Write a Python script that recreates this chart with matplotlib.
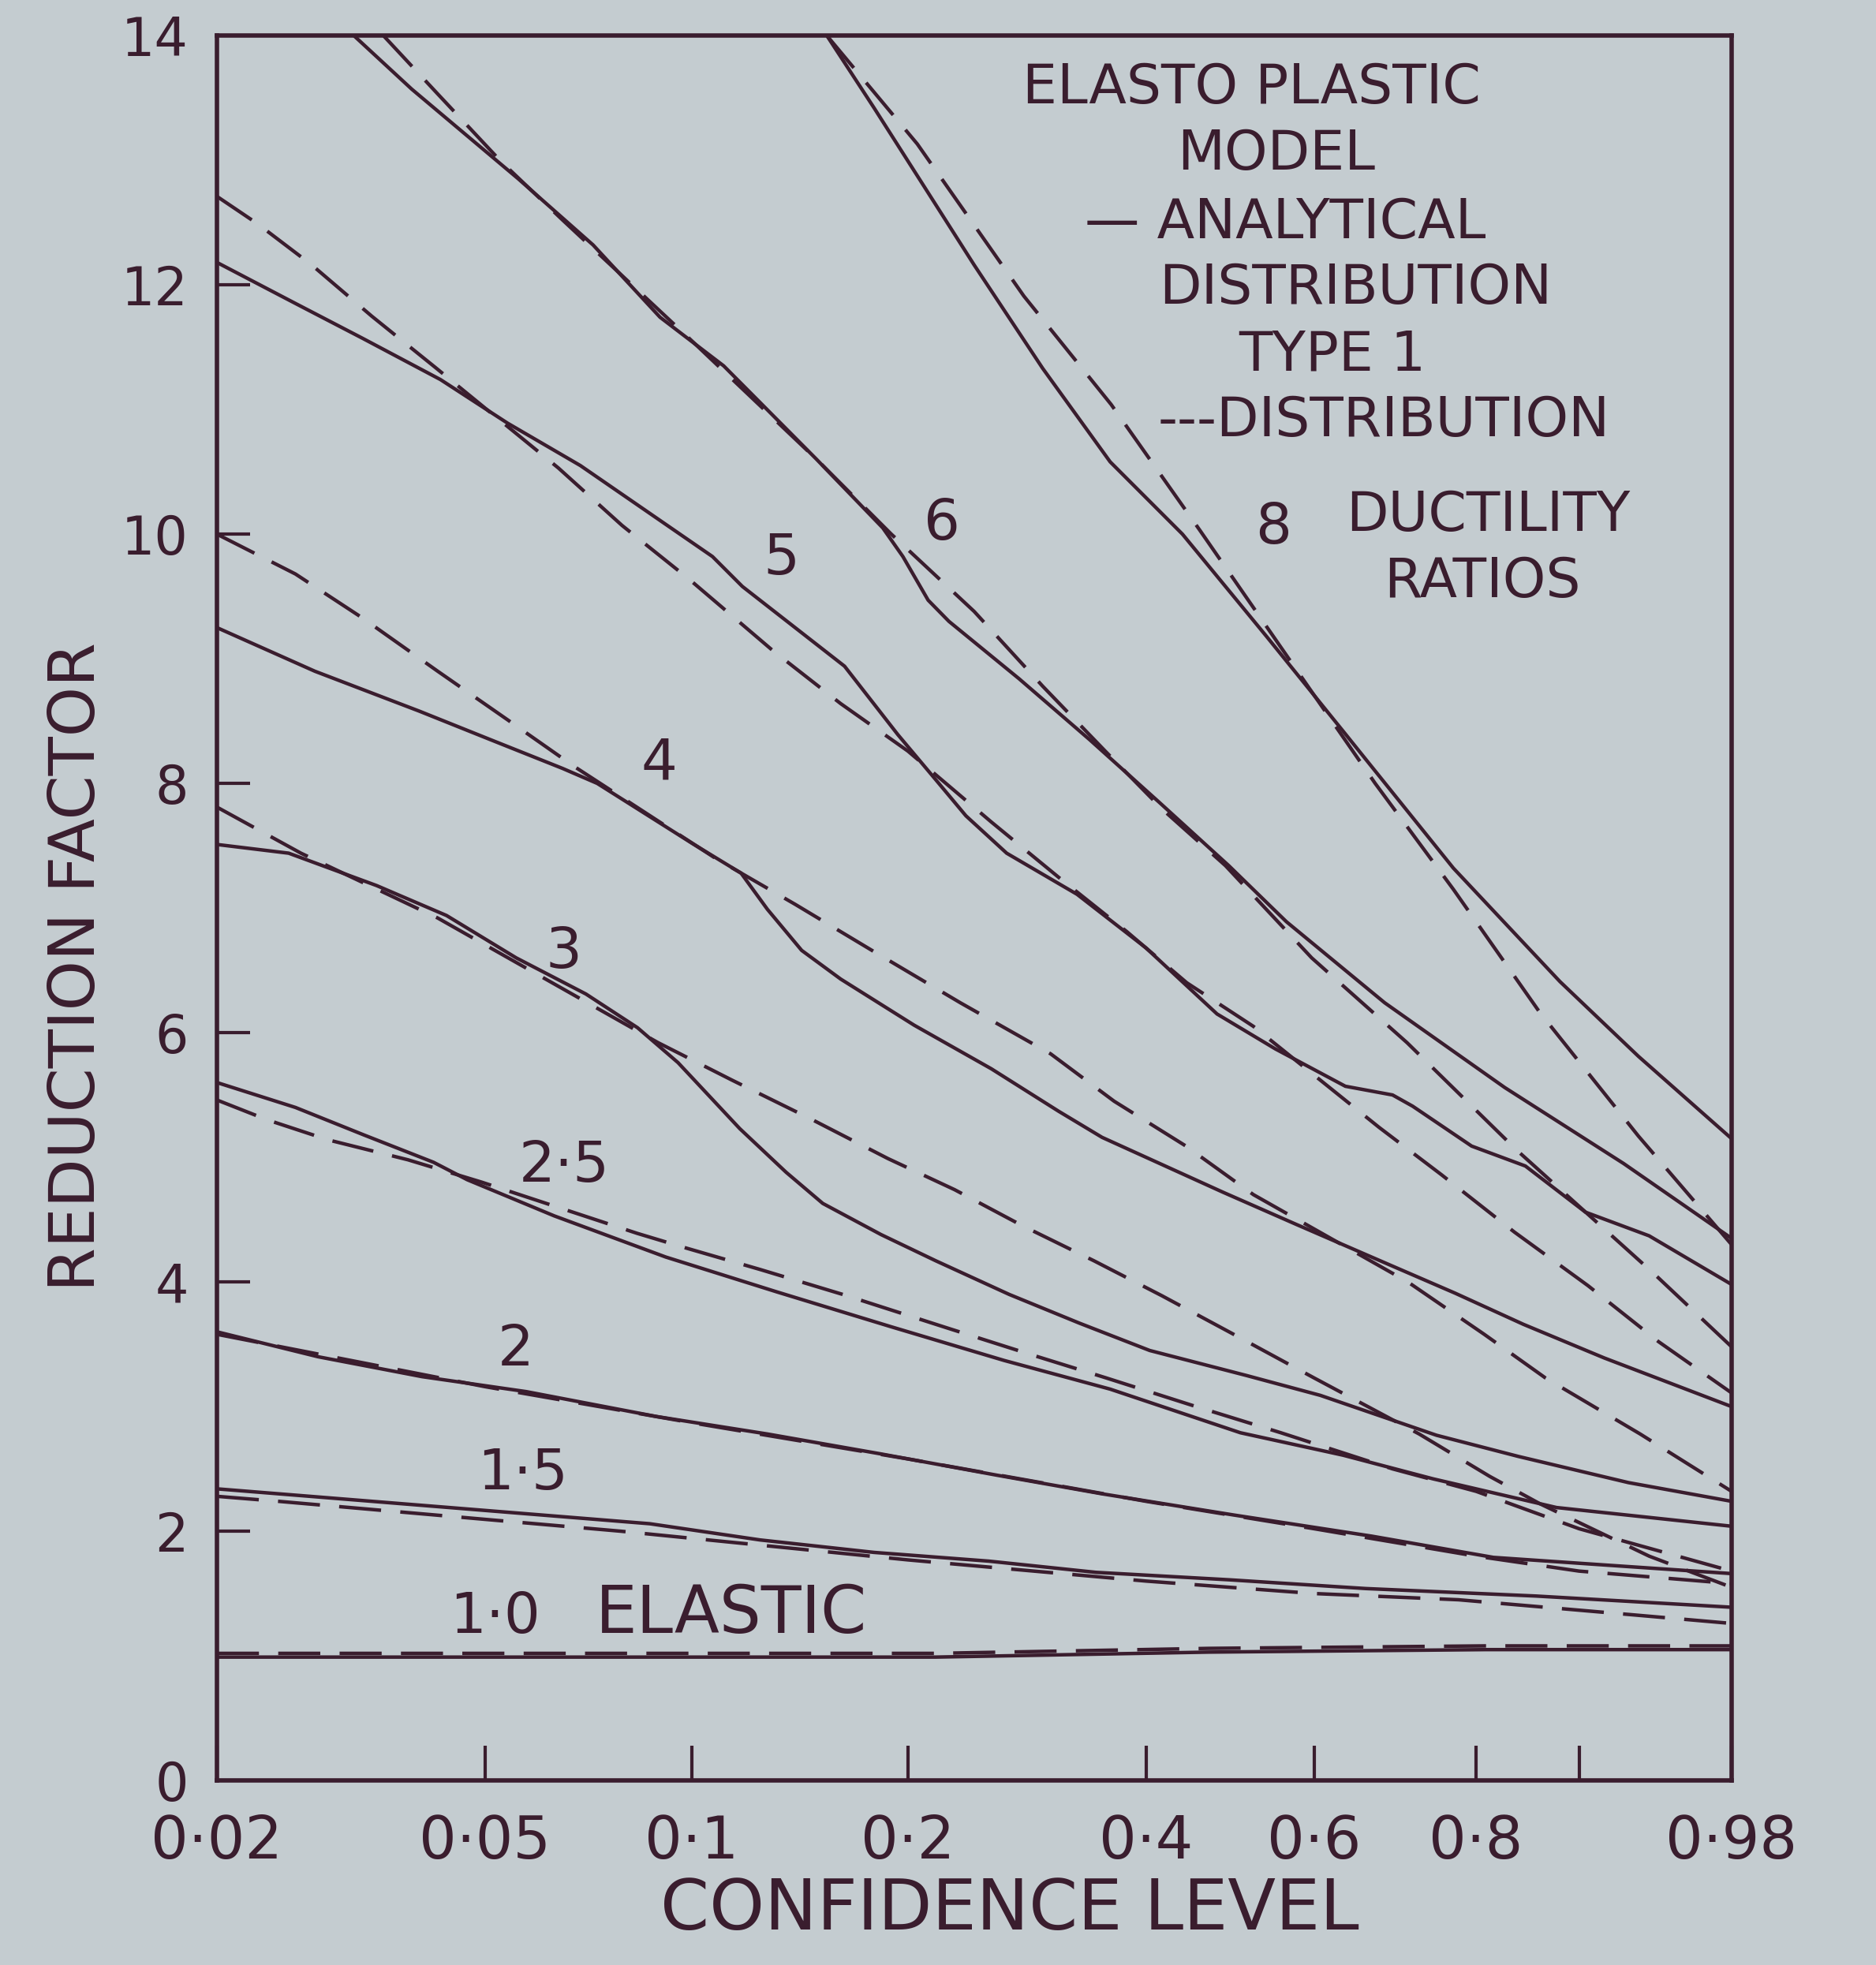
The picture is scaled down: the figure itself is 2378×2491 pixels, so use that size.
import numpy as np
import matplotlib
matplotlib.use("Agg")
import matplotlib.pyplot as plt

BG = "#c4ccd0"
INK = "#3a1d2e"
plt.rcParams['font.family'] = ['DejaVu Sans']

# ---------------- axes description ----------------
X_TICKS = [0.02, 0.05, 0.1, 0.2, 0.4, 0.6, 0.8, 0.9, 0.98]
X_TICK_LABELS = ["0·02", "0·05", "0·1", "0·2", "0·4", "0·6", "0·8", "", "0·98"]
Y_TICKS = [0, 2, 4, 6, 8, 10, 12, 14]
Y_TICK_LABELS = ["0", "2", "4", "6", "8", "10", "12", "14"]

# ---------------- data (confidence level, reduction factor) ----------------
# ductility 8
MU8_SOLID_P = [0.155, 0.18, 0.245, 0.30, 0.363, 0.44, 0.54, 0.637, 0.774, 0.884, 0.941, 0.98]
MU8_SOLID_V = [14.0, 13.42, 12.16, 11.33, 10.58, 10.0, 9.18, 8.42, 7.32, 6.41, 5.81, 5.15]
MU8_DASH_P = [0.155, 0.206, 0.284, 0.364, 0.46, 0.678, 0.774, 0.866, 0.941, 0.98]
MU8_DASH_V = [14.0, 13.13, 11.91, 11.04, 10.03, 8.0, 7.15, 6.16, 5.17, 4.3]
# ductility 6
MU6_SOLID_P = [0.032, 0.039, 0.056, 0.072, 0.09, 0.111, 0.15, 0.185, 0.197, 0.213, 0.227,
               0.28, 0.343, 0.414, 0.494, 0.565, 0.69, 0.831, 0.932, 0.98]
MU6_SOLID_V = [14.0, 13.57, 12.85, 12.32, 11.74, 11.35, 10.60, 10.05, 9.82, 9.47, 9.30,
               8.84, 8.35, 7.85, 7.34, 6.89, 6.24, 5.56, 4.95, 4.35]
MU6_DASH_P = [0.0354, 0.0428, 0.0528, 0.065, 0.1, 0.15, 0.19, 0.245, 0.30, 0.358, 0.418,
              0.49, 0.597, 0.718, 0.843, 0.95, 0.98]
MU6_DASH_V = [14.0, 13.52, 12.99, 12.52, 11.55, 10.6, 10.0, 9.38, 8.78, 8.26, 7.79,
              7.34, 6.6, 5.92, 5.06, 4.06, 3.48]
# ductility 5
MU5_SOLID_P = [0.02, 0.026, 0.033, 0.043, 0.054, 0.069, 0.107, 0.118, 0.164, 0.194, 0.218,
               0.239, 0.27, 0.331, 0.40, 0.48, 0.551, 0.64, 0.70, 0.725, 0.795, 0.852,
               0.905, 0.947, 0.98]
MU5_SOLID_V = [12.18, 11.86, 11.57, 11.24, 10.89, 10.55, 9.82, 9.58, 8.94, 8.39, 8.03,
               7.74, 7.44, 7.11, 6.68, 6.15, 5.87, 5.57, 5.5, 5.41, 5.09, 4.93,
               4.56, 4.37, 3.98]
MU5_DASH_P = [0.02, 0.023, 0.0277, 0.034, 0.0422, 0.0641, 0.0793, 0.099, 0.13, 0.162, 0.2,
              0.258, 0.315, 0.38, 0.445, 0.524, 0.683, 0.76, 0.841, 0.907, 0.952, 0.98]
MU5_DASH_V = [12.71, 12.49, 12.16, 11.75, 11.34, 10.53, 10.07, 9.64, 9.07, 8.64, 8.26,
              7.69, 7.24, 6.81, 6.40, 6.05, 5.24, 4.86, 4.40, 3.97, 3.52, 3.11]
# ductility 4
MU4_SOLID_P = [0.02, 0.028, 0.040, 0.051, 0.065, 0.073, 0.10, 0.1175, 0.128, 0.143, 0.162,
               0.204, 0.258, 0.314, 0.355, 0.487, 0.578, 0.677, 0.776, 0.85, 0.919, 0.98]
MU4_SOLID_V = [9.25, 8.90, 8.58, 8.35, 8.12, 8.0, 7.52, 7.28, 6.99, 6.66, 6.43,
               6.06, 5.71, 5.37, 5.16, 4.72, 4.46, 4.19, 3.91, 3.66, 3.39, 3.0]
MU4_DASH_P = [0.02, 0.0262, 0.0329, 0.0426, 0.054, 0.0674, 0.108, 0.14, 0.18, 0.235, 0.307,
              0.367, 0.444, 0.524, 0.719, 0.809, 0.871, 0.942, 0.98]
MU4_DASH_V = [10.0, 9.68, 9.33, 8.90, 8.51, 8.14, 7.40, 7.03, 6.65, 6.24, 5.83,
              5.45, 5.09, 4.70, 4.0, 3.58, 3.23, 2.78, 2.32]
# ductility 3
MU3_SOLID_P = [0.02, 0.0256, 0.0346, 0.0439, 0.0556, 0.0703, 0.0835, 0.0955, 0.117, 0.136,
               0.153, 0.184, 0.218, 0.272, 0.333, 0.404, 0.515, 0.608, 0.754, 0.845, 0.935, 0.98]
MU3_SOLID_V = [7.51, 7.44, 7.18, 6.94, 6.60, 6.31, 6.04, 5.76, 5.23, 4.88,
               4.63, 4.38, 4.17, 3.90, 3.67, 3.45, 3.25, 3.09, 2.77, 2.60, 2.39, 2.24]
MU3_DASH_P = [0.02, 0.0267, 0.0426, 0.0545, 0.0894, 0.114, 0.147, 0.188, 0.231, 0.283, 0.347,
              0.417, 0.497, 0.60, 0.733, 0.815, 0.866, 0.947, 0.98]
MU3_DASH_V = [7.81, 7.44, 6.92, 6.59, 5.92, 5.62, 5.31, 4.99, 4.74, 4.45, 4.17,
              3.89, 3.59, 3.23, 2.78, 2.44, 2.22, 1.8, 1.55]
# ductility 2.5
MU25_SOLID_P = [0.02, 0.0262, 0.0331, 0.042, 0.0471, 0.0632, 0.0917, 0.132, 0.19, 0.268,
                0.363, 0.508, 0.637, 0.75, 0.881, 0.98]
MU25_SOLID_V = [5.60, 5.40, 5.18, 4.96, 4.82, 4.53, 4.20, 3.92, 3.64, 3.37,
                3.14, 2.79, 2.61, 2.42, 2.19, 2.04]
MU25_DASH_P = [0.02, 0.0238, 0.0293, 0.0385, 0.0495, 0.0834, 0.097, 0.125, 0.163, 0.226,
               0.289, 0.359, 0.451, 0.558, 0.70, 0.80, 0.90, 0.98]
MU25_DASH_V = [5.46, 5.30, 5.14, 4.98, 4.80, 4.39, 4.28, 4.10, 3.90, 3.63,
               3.42, 3.23, 3.01, 2.79, 2.50, 2.32, 2.02, 1.68]
# ductility 2
MU2_SOLID_P = [0.02, 0.0283, 0.0404, 0.0575, 0.089, 0.128, 0.184, 0.262, 0.355, 0.50,
               0.674, 0.819, 0.918, 0.98]
MU2_SOLID_V = [3.60, 3.40, 3.24, 3.12, 2.92, 2.78, 2.62, 2.45, 2.30, 2.13,
               1.96, 1.79, 1.73, 1.66]
MU2_DASH_P = [0.02, 0.05, 0.1, 0.2, 0.4, 0.6, 0.8, 0.9, 0.98]
MU2_DASH_V = [3.58, 3.16, 2.87, 2.58, 2.24, 2.02, 1.80, 1.68, 1.58]
# ductility 1.5
MU15_SOLID_P = [0.02, 0.0443, 0.087, 0.125, 0.18, 0.256, 0.349, 0.495, 0.666, 0.862, 0.98]
MU15_SOLID_V = [2.34, 2.19, 2.06, 1.93, 1.83, 1.76, 1.67, 1.61, 1.54, 1.48, 1.39]
MU15_DASH_P = [0.02, 0.0247, 0.079, 0.2, 0.4, 0.6, 0.78, 0.937, 0.98]
MU15_DASH_V = [2.28, 2.24, 2.0, 1.77, 1.6, 1.5, 1.45, 1.33, 1.26]
# elastic (ductility 1.0)
MU1_SOLID_P = [0.02, 0.085, 0.218, 0.47, 0.81, 0.98]
MU1_SOLID_V = [0.99, 0.99, 0.99, 1.03, 1.05, 1.05]
MU1_DASH_P = [0.02, 0.085, 0.218, 0.47, 0.81, 0.98]
MU1_DASH_V = [1.02, 1.02, 1.02, 1.06, 1.08, 1.08]

# curve labels: (text, confidence level, reduction factor)
CURVE_LABELS = [("8", 0.549, 10.05), ("6", 0.222, 10.08), ("5", 0.134, 9.8),
                ("4", 0.0897, 8.16), ("3", 0.0653, 6.64), ("2·5", 0.0654, 4.93),
                ("2", 0.0555, 3.45), ("1·5", 0.0568, 2.46), ("1·0", 0.0517, 1.31)]

LEGEND_LINES = [("ELASTO PLASTIC", 0.522, 13.58), ("MODEL", 0.552, 13.05),
                ("— ANALYTICAL", 0.564, 12.50), ("DISTRIBUTION", 0.653, 11.97),
                ("TYPE 1", 0.623, 11.44), ("---DISTRIBUTION", 0.689, 10.91),
                ("DUCTILITY", 0.813, 10.15), ("RATIOS", 0.807, 9.62)]


def forward(p):
    p = np.clip(np.asarray(p, dtype=float), 1e-9, 1 - 1e-9)
    return np.log(-np.log(1.0 - p))


def inverse(t):
    t = np.clip(np.asarray(t, dtype=float), -60, 4)
    return 1.0 - np.exp(-np.exp(t))


fig = plt.figure(figsize=(23.78, 24.91), dpi=100)
fig.patch.set_facecolor(BG)
ax = fig.add_axes([0.1156, 0.0939, 0.8074, 0.888])
ax.set_facecolor(BG)
ax.set_xscale('function', functions=(forward, inverse))
ax.set_xlim(0.02, 0.98)
ax.set_ylim(0, 14)

SOLID = dict(color=INK, lw=3.2, solid_capstyle='round', solid_joinstyle='round')
DASH = dict(color=INK, lw=3.2, linestyle=(0, (12, 5.5)), dash_capstyle='butt',
            dash_joinstyle='round')

solid_sets = [(MU8_SOLID_P, MU8_SOLID_V), (MU6_SOLID_P, MU6_SOLID_V),
              (MU5_SOLID_P, MU5_SOLID_V), (MU4_SOLID_P, MU4_SOLID_V),
              (MU3_SOLID_P, MU3_SOLID_V), (MU25_SOLID_P, MU25_SOLID_V),
              (MU2_SOLID_P, MU2_SOLID_V), (MU15_SOLID_P, MU15_SOLID_V),
              (MU1_SOLID_P, MU1_SOLID_V)]
dash_sets = [(MU8_DASH_P, MU8_DASH_V), (MU6_DASH_P, MU6_DASH_V),
             (MU5_DASH_P, MU5_DASH_V), (MU4_DASH_P, MU4_DASH_V),
             (MU3_DASH_P, MU3_DASH_V), (MU25_DASH_P, MU25_DASH_V),
             (MU2_DASH_P, MU2_DASH_V), (MU15_DASH_P, MU15_DASH_V),
             (MU1_DASH_P, MU1_DASH_V)]

for p, v in solid_sets:
    ax.plot(p, v, **SOLID)
for p, v in dash_sets:
    ax.plot(p, v, **DASH)

ax.set_xticks(X_TICKS)
ax.set_xticklabels(X_TICK_LABELS)
ax.set_xticks([], minor=True)
ax.set_yticks(Y_TICKS)
ax.set_yticklabels(Y_TICK_LABELS)
ax.tick_params(axis='x', direction='in', length=32, width=3, colors=INK,
               labelsize=54, pad=30)
ax.tick_params(axis='y', direction='in', length=30, width=3, colors=INK,
               labelsize=48, pad=26)
for s in ax.spines.values():
    s.set_linewidth(4)
    s.set_color(INK)

for txt, p, v in CURVE_LABELS:
    ax.text(p, v, txt, fontsize=52, ha='center', va='center', color=INK)
ax.text(0.0725, 1.33, "ELASTIC", fontsize=60, ha='left', va='center', color=INK)

for txt, p, v in LEGEND_LINES:
    ax.text(p, v, txt, fontsize=50, ha='center', va='center', color=INK)

fig.text(0.0412, 0.508, "REDUCTION FACTOR", rotation=90, fontsize=58,
         ha='center', va='center', color=INK)
fig.text(0.538, 0.0277, "CONFIDENCE LEVEL", fontsize=64, ha='center', va='center',
         color=INK)

fig.savefig("out.png", dpi=100, facecolor=BG)
